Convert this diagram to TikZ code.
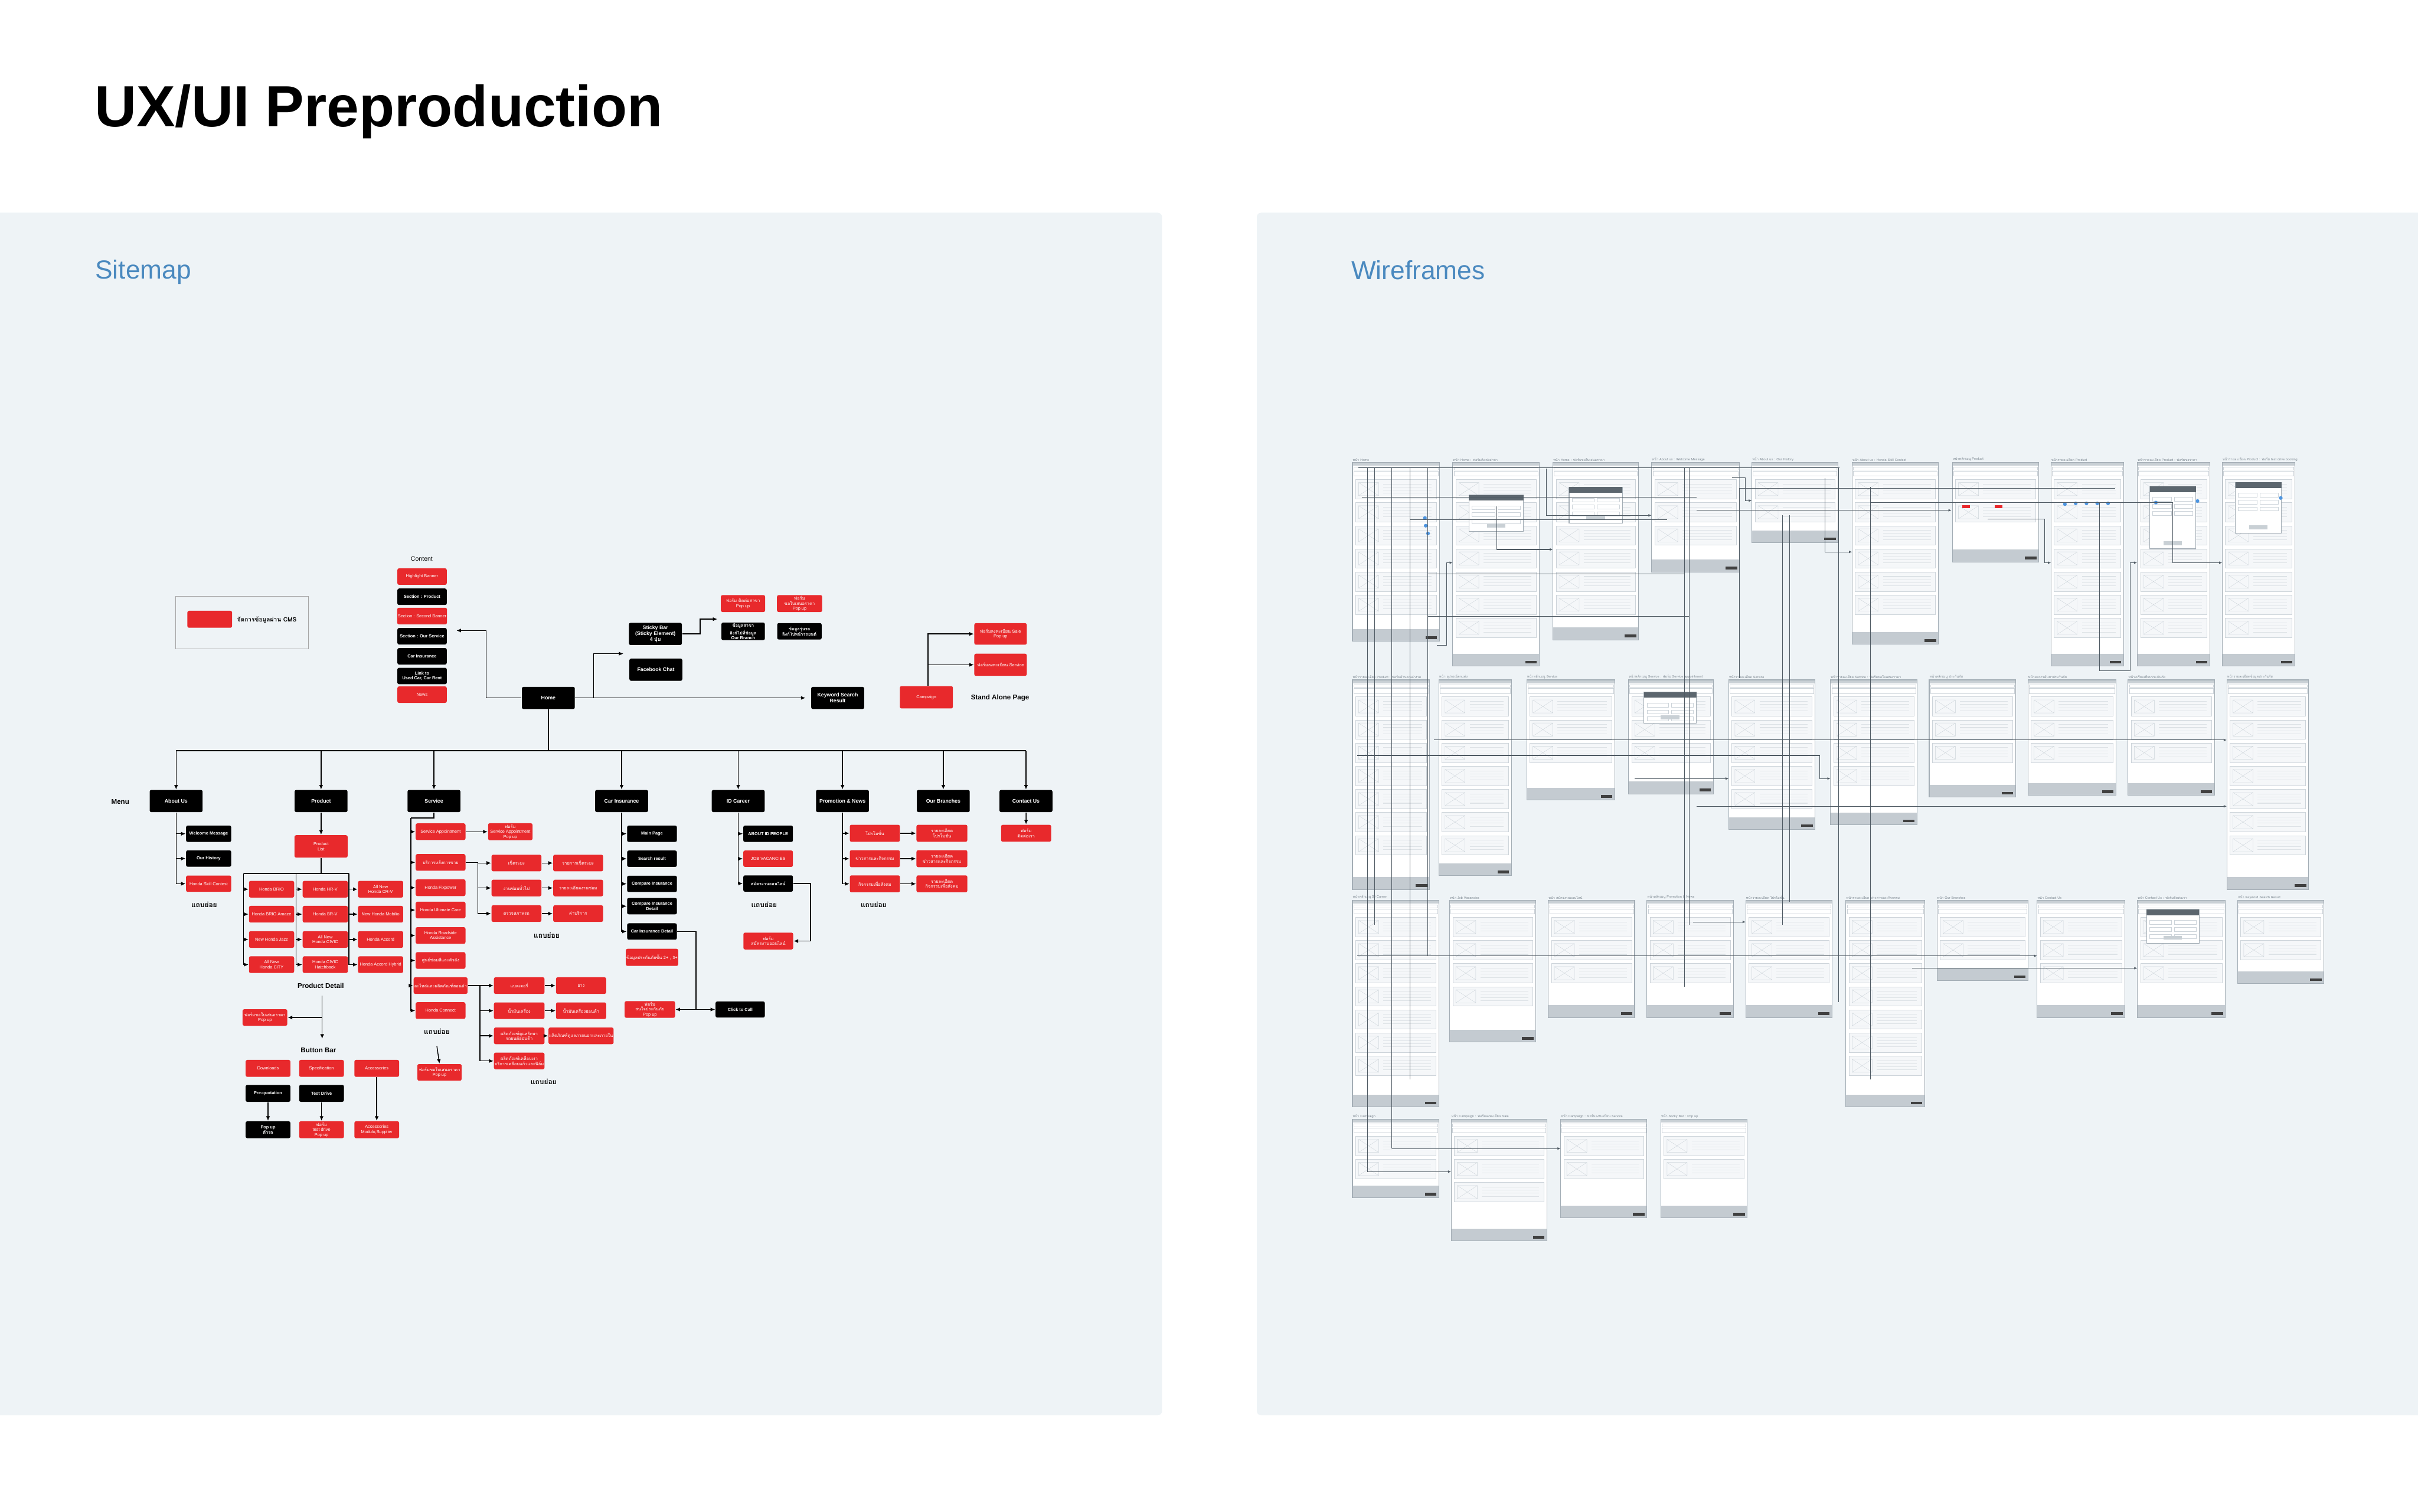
\documentclass[tikz,border=0pt]{standalone}
\usepackage{fontspec}
\setmainfont{Liberation Sans}
\newfontfamily\thai[Script=Thai]{Loma}
\usetikzlibrary{arrows.meta}

\definecolor{panelbg}{HTML}{EEF3F6}
\definecolor{sitered}{HTML}{E8292C}
\definecolor{headblue}{HTML}{4A89BF}
\definecolor{wfborderc}{HTML}{A3ADB5}
\definecolor{wfbarc}{HTML}{C9D0D5}
\definecolor{wffootc}{HTML}{C4CBD1}
\definecolor{wfpanelc}{HTML}{F5F7F9}
\definecolor{wfthinc}{HTML}{CDD4DA}
\definecolor{wftextc}{HTML}{DDE2E6}
\definecolor{wfdarkc}{HTML}{5C666E}
\definecolor{wfconnc}{HTML}{4F5A63}
\definecolor{wfbluec}{HTML}{4D95E0}
\definecolor{wflabelc}{HTML}{7D8891}

\tikzset{
  boxw/.style={minimum width=#1*0.02612cm},
  boxh/.style={minimum height=#1*0.02612cm},
  box/.style={rounded corners=0.8pt, inner sep=0.3pt, align=center, text=white,
    boxw=29.3, boxh=10.8, font=\fontsize{2.1}{2.4}\selectfont},
  blk/.style={box, fill=black, font=\fontsize{2.1}{2.4}\selectfont\bfseries},
  cms/.style={box, fill=sitered},
  menu/.style={blk, boxw=34.3, boxh=14.4, font=\fontsize{2.5}{2.8}\selectfont\bfseries},
  conn/.style={draw=black, line width=0.4pt},
  arr/.style={conn, -{Latex[length=2.2pt,width=1.9pt]}},
  tag/.style={inner sep=0pt, font=\fontsize{3.3}{3.6}\selectfont\bfseries},
  subtag/.style={inner sep=0pt, font=\fontsize{3.4}{3.6}\thai\bfseries},
  wfborder/.style={draw=wfborderc, line width=0.3pt},
  wfthin/.style={draw=wfthinc, line width=0.15pt},
  wfx/.style={draw=wfthinc, line width=0.12pt},
  wftext/.style={draw=wftextc, line width=0.3pt},
  wflabel/.style={anchor=south west, inner sep=0pt, text=wflabelc, font=\fontsize{1.6}{1.8}\selectfont},
  wfconn/.style={draw=wfconnc, line width=0.3pt},
  wfarr/.style={wfconn, -{Latex[length=1.5pt,width=1.3pt]}},
}

% one wireframe screen: x, y (top), width, height, title
\newcommand{\wirescreen}[5]{%
  \fill[white] (#1,#2) rectangle ++(#3,#4);
  \fill[wfbarc] (#1,#2) rectangle ++(#3,2.2);
  \draw[wfthin] (#1+0.8,#2+3) rectangle ++(#3-1.6,1.8);
  \draw[wfthin] (#1+0.8,#2+5.6) rectangle ++(#3-1.6,3.2);
  \pgfmathtruncatemacro{\nblk}{max(1,(#4-20)/15)}%
  \foreach \k in {1,...,\nblk}{%
    \pgfmathsetmacro{\yb}{#2+11+(\k-1)*15}%
    \draw[wfthin, fill=wfpanelc] (#1+2,\yb) rectangle ++(#3-4,12.5);
    \draw[wfx] (#1+4,\yb+2) rectangle ++(13,8.5) (#1+4,\yb+2) -- ++(13,8.5) (#1+17,\yb+2) -- ++(-13,8.5);
    \foreach \t in {0,1,2,3}{\draw[wftext] (#1+20,\yb+3+\t*2) -- ++(#3-25,0);}
  }
  \fill[wffootc] (#1,#2+#4-8) rectangle ++(#3,8);
  \fill[black!75] (#1+#3-9,#2+#4-3.4) rectangle ++(7.5,1.8);
  \draw[wfborder] (#1,#2) rectangle ++(#3,#4);
  \node[wflabel] at (#1,#2-0.6) {#5};
}

% pop up form drawn over a screen: x, y, width, height
\newcommand{\wiremodal}[4]{%
  \draw[wfborder, fill=white] (#1,#2) rectangle ++(#3,#4);
  \fill[wfdarkc] (#1,#2) rectangle ++(#3,3.6);
  \foreach \r in {0,1,2}{\draw[wfthin] (#1+2,#2+7+\r*4.5) rectangle ++(#3/2-3,2.6) (#1+#3/2+1,#2+7+\r*4.5) rectangle ++(#3/2-3,2.6);}
  \fill[wfbarc] (#1+#3/2-6,#2+#4-5) rectangle ++(12,2.6);
}

\begin{document}
\begin{tikzpicture}[x=0.02612cm, y=-0.02612cm]
  \useasboundingbox (0,0) rectangle (1568,980.4);
  \fill[white] (0,0) rectangle (1568,980.4);
  \fill[panelbg, rounded corners=2pt] (-6,138) rectangle (753.5,918);
  \fill[panelbg, rounded corners=2pt] (815,138) rectangle (1575,918);

  \node[anchor=base west, inner sep=0pt, font=\fontsize{28}{30}\selectfont\bfseries] (title) at (61,82.3) {UX/UI Preproduction};
  \node[anchor=base west, inner sep=0pt, text=headblue, font=\fontsize{12.6}{14}\selectfont] (sitemaplbl) at (61.5,180.8) {Sitemap};
  \node[anchor=base west, inner sep=0pt, text=headblue, font=\fontsize{12.6}{14}\selectfont] (wirelbl) at (876,181.2) {Wireframes};

  % ---------------- sitemap ----------------
  % legend
  \draw[draw=black!35, line width=0.3pt] (114,387) rectangle (200,421);
  \node[cms, boxw=29, boxh=11] (legendkey) at (136,401.7) {};
  \node[anchor=west, inner sep=0pt, font=\fontsize{2.9}{3.2}\selectfont\bfseries] (legendtxt) at (153.5,402) {\thai{จัดการข้อมูลผ่าน} CMS};

  % home page content
  \node[tag, font=\fontsize{3}{3.3}\selectfont] (contentlbl) at (273.5,362.5) {Content};
  \node[cms, boxw=32, boxh=10.7] (hlbanner) at (273.7,374) {Highlight Banner};
  \node[blk, boxw=32, boxh=10.7] (secproduct) at (273.7,387.1) {Section : Product};
  \node[cms, boxw=32, boxh=10.7] (secbanner) at (273.7,399.6) {Section : Second Banner};
  \node[blk, boxw=32, boxh=10.7] (secservice) at (273.7,412.7) {Section : Our Service};
  \node[blk, boxw=32, boxh=10.7] (secinsure) at (273.7,425.7) {Car Insurance};
  \node[blk, boxw=32, boxh=10.7] (seclink) at (273.7,438.5) {Link to\\Used Car, Car Rent};
  \node[cms, boxw=32, boxh=10.7] (secnews) at (273.7,450.6) {News};

  \node[menu] (home) at (355.6,452.7) {Home};
  \node[menu] (keyword) at (543.2,452.7) {Keyword Search\\Result};
  \node[menu] (sticky) at (425,411.2) {Sticky Bar\\(Sticky Element)\\4 \thai{ปุ่ม}};
  \node[menu] (fbchat) at (425.3,434.4) {Facebook Chat};
  \node[cms, boxw=28.7, boxh=11] (branchpop) at (481.8,391.5) {\thai{ฟอร์ม ติดต่อสาขา}\\Pop up};
  \node[cms, boxw=29.3, boxh=11] (quotepopA) at (518.5,391.5) {\thai{ฟอร์ม}\\\thai{ขอใบเสนอราคา}\\Pop up};
  \node[blk, boxw=28.2, boxh=10.7] (branchlink) at (481.9,409.5) {\thai{ข้อมูลสาขา}\\\thai{ลิงก์ไปที่ข้อมูล}\\Our Branch};
  \node[blk, boxw=28.8, boxh=10.7] (carlink) at (518.4,409.5) {\thai{ข้อมูลรุ่นรถ}\\\thai{ลิงก์ไปหน้ารถยนต์}};

  \node[cms, boxw=34.4, boxh=14.5] (campaign) at (600.7,452.3) {Campaign};
  \node[cms, boxw=34, boxh=14] (salepop) at (648.8,411.2) {\thai{ฟอร์มลงทะเบียน} Sale\\Pop up};
  \node[cms, boxw=34, boxh=14.4] (servicepop) at (648.8,431.2) {\thai{ฟอร์มลงทะเบียน} Service};
  \node[tag] (standalone) at (648.5,452.8) {Stand Alone Page};

  \coordinate (stickyin) at (404.3,424);
  \coordinate (popin) at (465.2,401.6);
  \draw[arr, shorten >=0.157cm] (home.west) -- ++(-23,0) |- ([yshift=0.097cm]secservice.east);
  \draw[arr, shorten >=0.09cm] (home) -- (keyword);
  \draw[arr] ([xshift=0.308cm]home.east) |- (stickyin);
  \draw[arr] (sticky.east) -- ++(11.6,0) |- (popin);
  \draw[arr] ([xshift=0.026cm]campaign.north) |- (salepop.west);
  \draw[arr] ([xshift=0.026cm]campaign.north |- servicepop.west) -- (servicepop.west);

  % main menu
  \node[tag] (menulbl) at (78,520) {Menu};
  \node[menu] (aboutus) at (114.2,519.6) {About Us};
  \node[menu] (product) at (208.2,519.6) {Product};
  \node[menu] (service) at (281.4,519.6) {Service};
  \node[menu] (carins) at (403.1,519.6) {Car Insurance};
  \node[menu] (career) at (478.7,519.6) {ID Career};
  \node[menu] (promo) at (546.3,519.6) {Promotion \& News};
  \node[menu] (branches) at (611.7,519.6) {Our Branches};
  \node[menu] (contact) at (665.3,519.6) {Contact Us};

  \coordinate (busL) at (114,486.9);
  \coordinate (busR) at (665.3,486.9);
  \draw[conn] (home.south) -- (home.south |- busL);
  \draw[conn] (busL) -- (busR);
  \foreach \m in {aboutus,product,service,carins,career,promo,branches,contact}
    \draw[arr] (\m.north |- busL) -- (\m.north);

  % about us
  \node[blk, boxw=29.3, boxh=10.6] (welcome) at (135.3,540.8) {Welcome Message};
  \node[blk, boxw=29.3, boxh=10.6] (history) at (135.3,556.9) {Our History};
  \node[cms, boxw=29.3, boxh=10.6] (skill) at (135.3,573.2) {Honda Skill Contest};
  \node[subtag] (aboutsub) at (132.4,586.8) {แถบย่อย};
  \foreach \c in {welcome,history,skill}
    \draw[arr] (aboutus.south) |- (\c.west);

  % product
  \node[cms, boxw=34.5, boxh=14.5] (productlist) at (208.2,549) {Product\\List};
  \draw[arr] (product) -- (productlist);
  \coordinate (gridA) at (158,566.6);
  \coordinate (gridB) at (191.9,566.6);
  \coordinate (gridC) at (226.3,566.6);
  \draw[conn] (productlist.south) -- (productlist.south |- gridA);
  \draw[conn] (gridA) -- (gridC);
  \node[cms] (brio) at (176.1,576.8) {Honda BRIO};
  \node[cms] (amaze) at (176.1,593) {Honda BRIO Amaze};
  \node[cms] (jazz) at (176.1,609.4) {New Honda Jazz};
  \node[cms] (city) at (176.1,625.7) {All New\\Honda CITY};
  \node[cms] (hrv) at (210.9,576.8) {Honda HR-V};
  \node[cms] (brv) at (210.9,593) {Honda BR-V};
  \node[cms] (civic) at (210.9,609.4) {All New\\Honda CIVIC};
  \node[cms] (hatch) at (210.9,625.7) {Honda CIVIC\\Hatchback};
  \node[cms] (crv) at (246.8,576.8) {All New\\Honda CR-V};
  \node[cms] (mobilio) at (246.8,593) {New Honda Mobilio};
  \node[cms] (accord) at (246.8,609.4) {Honda Accord};
  \node[cms] (hybrid) at (246.8,625.7) {Honda Accord Hybrid};
  \foreach \c in {brio,amaze,jazz,city} \draw[arr] (gridA) |- (\c.west);
  \foreach \c in {hrv,brv,civic,hatch} \draw[arr] (gridB) |- (\c.west);
  \foreach \c in {crv,mobilio,accord,hybrid} \draw[arr] (gridC) |- (\c.west);

  \node[tag] (pdetail) at (208,639.4) {Product Detail};
  \node[cms, boxw=29, boxh=10.7] (quotepop) at (171.8,660) {\thai{ฟอร์มขอใบเสนอราคา}\\Pop up};
  \coordinate (pdtop) at (208.9,645.7);
  \coordinate (pddown) at (208.9,673.8);
  \draw[arr] (pdtop) -- (pddown);
  \draw[arr] (pdtop |- quotepop.east) -- (quotepop.east);
  \node[tag] (buttonbar) at (206.5,681.2) {Button Bar};
  \node[cms, boxw=29, boxh=11] (downloads) at (173.8,693) {Downloads};
  \node[cms, boxw=29, boxh=11] (spec) at (208.5,693) {Specification};
  \node[cms, boxw=29, boxh=11] (access) at (244.3,693) {Accessories};
  \node[blk, boxw=29, boxh=11] (prequote) at (173.8,709.2) {Pre-quotation};
  \node[blk, boxw=29, boxh=11] (testdrive) at (208.5,709.2) {Test Drive};
  \node[blk, boxw=29, boxh=11] (carpop) at (173.8,732.8) {Pop up\\\thai{ตัวรถ}};
  \node[cms, boxw=29, boxh=11] (drivepop) at (208.5,732.8) {\thai{ฟอร์ม}\\test drive\\Pop up};
  \node[cms, boxw=29, boxh=11] (modulo) at (244.3,732.8) {Accessories\\Modulo,Supplier};
  \draw[arr] (prequote) -- (carpop);
  \draw[arr] (testdrive) -- (drivepop);
  \draw[arr] (access) -- (modulo);

  % service
  \coordinate (svtrunk) at (266.5,530.6);
  \draw[conn] (service.south) |- (svtrunk);
  \node[cms, boxw=32.3] (svappoint) at (285.7,539.5) {Service Appointment};
  \node[cms, boxw=32.3] (svafter) at (285.7,559.4) {\thai{บริการหลังการขาย}};
  \node[cms, boxw=32.3] (svfix) at (285.7,575.8) {Honda Fixpower};
  \node[cms, boxw=32.3] (svcare) at (285.7,590.3) {Honda Ultimate Care};
  \node[cms, boxw=32.3] (svroad) at (285.7,606.8) {Honda Roadside\\Assistance};
  \node[cms, boxw=32.3] (svbody) at (285.7,623) {\thai{ศูนย์ซ่อมสีและตัวถัง}};
  \node[cms, boxw=32.3] (svparts) at (285.7,639.3) {\thai{อะไหล่และผลิตภัณฑ์ฮอนด้า}};
  \node[cms, boxw=32.3] (svconnect) at (285.7,655.5) {Honda Connect};
  \foreach \c in {svappoint,svafter,svfix,svcare,svroad,svbody,svparts,svconnect}
    \draw[arr] (svtrunk) |- (\c.west);
  \node[cms, boxw=28.8, boxh=11] (appointpop) at (330.9,539.5) {\thai{ฟอร์ม}\\Service Appointment\\Pop up};
  \draw[arr] (svappoint) -- (appointpop);

  \node[cms, boxw=32.3] (checkA) at (334.9,559.8) {\thai{เช็คระยะ}};
  \node[cms, boxw=32.3] (repairA) at (334.9,576) {\thai{งานซ่อมทั่วไป}};
  \node[cms, boxw=32.3] (inspectA) at (334.9,592.6) {\thai{ตรวจสภาพรถ}};
  \node[cms, boxw=32.3] (checkB) at (374.9,559.8) {\thai{รายการเช็คระยะ}};
  \node[cms, boxw=32.3] (repairB) at (374.9,576) {\thai{รายละเอียดงานซ่อม}};
  \node[cms, boxw=32.3] (inspectB) at (374.9,592.6) {\thai{ค่าบริการ}};
  \foreach \c in {checkA,repairA,inspectA}
    \draw[arr] (svafter.east) -- ++(7.8,0) |- (\c.west);
  \draw[arr] (checkA) -- (checkB);
  \draw[arr] (repairA) -- (repairB);
  \draw[arr] (inspectA) -- (inspectB);
  \node[subtag] (aftersub) at (354.5,606.8) {แถบย่อย};

  \node[cms, boxw=32.8] (battC) at (336.7,639.3) {\thai{แบตเตอรี่}};
  \node[cms, boxw=32.8] (oilC) at (336.7,655.6) {\thai{น้ำมันเครื่อง}};
  \node[cms, boxw=32.8] (careC) at (336.7,671.9) {\thai{ผลิตภัณฑ์ดูแลรักษา}\\\thai{รถยนต์ฮอนด้า}};
  \node[cms, boxw=32.8] (coatC) at (336.7,688.2) {\thai{ผลิตภัณฑ์เคลือบเงา}\\\thai{บริการเคลือบแก้วและฟิล์ม}};
  \node[cms, boxw=32.5] (tyreD) at (376.8,639.3) {\thai{ยาง}};
  \node[cms, boxw=32.5] (oilD) at (376.8,655.6) {\thai{น้ำมันเครื่องฮอนด้า}};
  \node[cms, boxw=32.5] (careD) at (376.8,671.9) {\thai{ผลิตภัณฑ์ดูแลภายนอกและภายใน}};
  \foreach \c in {battC,oilC,careC,coatC}
    \draw[arr] (svparts.east) -- ++(7.8,0) |- (\c.west);
  \draw[arr] (battC) -- (tyreD);
  \draw[arr] (oilC) -- (oilD);
  \draw[arr] (careC) -- (careD);
  \node[subtag] (partsub) at (352.5,701.8) {แถบย่อย};

  \node[subtag] (servicesub) at (283.3,669) {แถบย่อย};
  \node[cms, boxw=28.7] (svquote) at (285,695.6) {\thai{ฟอร์มขอใบเสนอราคา}\\Pop up};
  \draw[arr] ([yshift=-0.2cm]servicesub.south) -- (svquote.north);

  % car insurance
  \node[blk, boxw=32.3, boxh=10.6] (insmain) at (422.8,540.8) {Main Page};
  \node[blk, boxw=32.3, boxh=10.6] (inssearch) at (422.8,557) {Search result};
  \node[blk, boxw=32.3, boxh=10.6] (inscompare) at (422.8,573.3) {Compare  Insurance};
  \node[blk, boxw=32.3, boxh=10.6] (inscmpdetail) at (422.8,587.8) {Compare Insurance\\Detail};
  \node[blk, boxw=32.3, boxh=10.6] (insdetail) at (422.8,604.2) {Car Insurance Detail};
  \node[cms, boxw=33.2, boxh=11.1] (insclass) at (422.8,621) {\thai{ข้อมูลประกันภัยชั้น} 2+ , 3+};
  \foreach \c in {insmain,inssearch,inscompare,inscmpdetail,insdetail}
    \draw[arr] (carins.south) |- (\c.west);
  \node[cms, boxw=32.7] (inspop) at (421.4,654.8) {\thai{ฟอร์ม}\\\thai{สนใจประกันภัย}\\Pop up};
  \node[blk, boxw=32, boxh=10.4] (clickcall) at (480,654.8) {Click to Call};
  \coordinate (callsplit) at (451.4,654.8);
  \draw[conn] (insdetail.east) -| (callsplit);
  \draw[arr] (callsplit) -- (inspop.east);
  \draw[arr] (callsplit) -- (clickcall.west);

  % career
  \node[blk, boxw=32.2, boxh=10.6] (idpeople) at (498.1,540.8) {ABOUT ID PEOPLE};
  \node[cms, boxw=32.2, boxh=10.6] (jobs) at (498.1,557) {JOB VACANCIES};
  \node[blk, boxw=32.2, boxh=10.6] (applyonline) at (498.1,573.1) {\thai{สมัครงานออนไลน์}};
  \foreach \c in {idpeople,jobs,applyonline}
    \draw[arr] (career.south) |- (\c.west);
  \node[subtag] (careersub) at (495.5,586.8) {แถบย่อย};
  \node[cms, boxw=32.3, boxh=10.9] (applypop) at (498.2,610.4) {\thai{ฟอร์ม}\\\thai{สมัครงานออนไลน์}};
  \draw[arr] (applyonline.east) -- ++(11.1,0) |- (applypop.east);

  % promotion & news
  \node[cms, boxw=32.5, boxh=11] (promoA) at (567.3,540.5) {\thai{โปรโมชั่น}};
  \node[cms, boxw=32.5, boxh=11] (newsA) at (567.3,557) {\thai{ข่าวสารและกิจกรรม}};
  \node[cms, boxw=32.5, boxh=11] (csrA) at (567.3,573.3) {\thai{กิจกรรมเพื่อสังคม}};
  \node[cms, boxw=33, boxh=11] (promoB) at (610.8,540.5) {\thai{รายละเอียด}\\\thai{โปรโมชั่น}};
  \node[cms, boxw=33, boxh=11] (newsB) at (610.8,557) {\thai{รายละเอียด}\\\thai{ข่าวสารและกิจกรรม}};
  \node[cms, boxw=33, boxh=11] (csrB) at (610.8,573.3) {\thai{รายละเอียด}\\\thai{กิจกรรมเพื่อสังคม}};
  \foreach \c in {promoA,newsA,csrA}
    \draw[arr] (promo.south) |- (\c.west);
  \draw[arr] (promoA) -- (promoB);
  \draw[arr] (newsA) -- (newsB);
  \draw[arr] (csrA) -- (csrB);
  \node[subtag] (promosub) at (566.5,586.8) {แถบย่อย};

  % contact
  \node[cms, boxw=32.5, boxh=10.9] (contactform) at (665.4,540.5) {\thai{ฟอร์ม}\\\thai{ติดต่อเรา}};
  \draw[arr] (contact) -- (contactform);

  % ---------------- wireframes ----------------
  \foreach \x/\y/\w/\h/\lbl in {
      877/300/56.4/116/{\thai{หน้า} Home},
      942/300/56/132/{\thai{หน้า} Home : \thai{ฟอร์มติดต่อสาขา}},
      1007/300/55.5/115/{\thai{หน้า} Home : \thai{ฟอร์มขอใบเสนอราคา}},
      1071/300/57/71/{\thai{หน้า} About us : Welcome Message},
      1136/300/56/52/{\thai{หน้า} About us : Our History},
      1201/300/56/118/{\thai{หน้า} About us : Honda Skill Contest},
      1266/300/56/64.5/{\thai{หน้าหลักเมนู} Product},
      1330/300/47/132/{\thai{หน้ารายละเอียด} Product},
      1386/300/47/132/{\thai{หน้ารายละเอียด} Product : \thai{ฟอร์มขอราคา}},
      1441/300/47/132/{\thai{หน้ารายละเอียด} Product : \thai{ฟอร์ม} test drive booking},
      877/441/50/136/{\thai{หน้ารายละเอียด} Product : \thai{ฟอร์มคำนวณค่างวด}},
      933/441/47/127/{\thai{หน้า อุปกรณ์ตกแต่ง}},
      990/441/57/78/{\thai{หน้าหลักเมนู} Service},
      1056/441/55/74/{\thai{หน้าหลักเมนู} Service : \thai{ฟอร์ม} Service appointment},
      1121/441/56/97/{\thai{หน้ารายละเอียด} Service},
      1187/441/56/94/{\thai{หน้ารายละเอียด} Service : \thai{ฟอร์มขอใบเสนอราคา}},
      1251/441/56/76/{\thai{หน้าหลักเมนู ประกันภัย}},
      1315/441/57/75/{\thai{หน้าผลการค้นหาประกันภัย}},
      1380/441/56/75/{\thai{หน้าเปรียบเทียบประกันภัย}},
      1444/441/53/136/{\thai{หน้ารายละเอียดข้อมูลประกันภัย}},
      877/584/56/134/{\thai{หน้าหลักเมนู} ID Career},
      940/584/56/92/{\thai{หน้า} Job Vacancies},
      1004/584/56/76/{\thai{หน้า สมัครงานออนไลน์}},
      1068/584/56/76/{\thai{หน้าหลักเมนู} Promotion \& News},
      1132/584/56/76/{\thai{หน้ารายละเอียด โปรโมชั่น}},
      1197/584/51/134/{\thai{หน้ารายละเอียด ข่าวสารและกิจกรรม}},
      1256/584/59/52/{\thai{หน้า} Our Branches},
      1321/584/57/76/{\thai{หน้า} Contact Us},
      1386/584/57/76/{\thai{หน้า} Contact Us : \thai{ฟอร์มติดต่อเรา}},
      1451/584/56/54/{\thai{หน้า} Keyword Search Result},
      877/726/56/51/{\thai{หน้า} Campaign},
      941/726/62/79/{\thai{หน้า} Campaign : \thai{ฟอร์มลงทะเบียน} Sale},
      1012/726/56/64/{\thai{หน้า} Campaign : \thai{ฟอร์มลงทะเบียน} Service},
      1077/726/56/64/{\thai{หน้า} Sticky Bar : Pop up}}
    \wirescreen{\x}{\y}{\w}{\h}{\lbl};

  \wiremodal{952.6}{321}{35.4}{23.6}
  \wiremodal{1017.5}{316}{34.5}{23.5}
  \wiremodal{1394}{315.5}{30}{40.5}
  \wiremodal{1449.5}{312.8}{30}{33}
  \wiremodal{1066}{449}{34}{20}
  \wiremodal{1392}{590}{34}{22}

  \foreach \bx/\by in {924/336, 924.5/341, 926/346, 1339/327, 1346/326.5, 1353/326.5, 1360/326.5, 1367/326.5, 1398/326, 1425/325, 1479/323}
    \fill[wfbluec] (\bx,\by) circle (1.2);
  \fill[sitered] (1272.5,327.5) rectangle ++(5,2.2);
  \fill[sitered] (1293.5,327.5) rectangle ++(5,2.2);

  % connectors between screens
  \draw[wfconn] (881,303.5) -- (1193,303.5);
  \draw[wfconn] (883,322.6) -- (1100,322.6);
  \draw[wfarr] (1100,331) -- (1265.5,331);
  \draw[wfconn] (1127.8,316.6) -- (1371.6,316.6);
  \draw[wfarr] (1213,325.8) -- (1409,325.8) -- (1409,365) -- (1441,365);
  \draw[wfarr] (1289,336.6) -- (1326,336.6) -- (1326,365) -- (1330,365);
  \draw[wfarr] (1361.4,326) -- (1361.4,435) -- (1381.3,435) -- (1381.3,365) -- (1385.8,365);
  \draw[wfarr] (931.7,418.5) -- (937.9,418.5) -- (937.9,365) -- (942,365);
  \draw[wfarr] (970.5,328.5) -- (970.5,356.4) -- (1007,356.4);
  \draw[wfarr] (1002.7,304) -- (1002.7,334.3) -- (1071,334.3);
  \draw[wfarr] (1123,310) -- (1131.7,310) -- (1131.7,324.7) -- (1136,324.7);
  \draw[wfarr] (1183.4,310) -- (1183.4,358) -- (1201,358);
  \draw[wfconn] (925.7,372.3) -- (1092.2,372.3);
  \draw[wfconn] (925.7,399.7) -- (1095.5,399.7);
  \draw[wfconn] (914.2,337) -- (1081,337);
  \foreach \vx/\vy in {886.7/760, 891.5/600, 902.5/745, 914.2/700, 925.7/620, 1092.2/640, 1095.5/600, 1192.2/650}
    \draw[wfconn] (\vx,303.5) -- (\vx,\vy);
  \draw[wfconn] (1213,316) -- (1213,700);
  \draw[wfconn] (1127.8,316.6) -- (1127.8,440);
  \draw[wfconn] (1155.9,334) -- (1155.9,600);
  \draw[wfconn] (1160.5,334) -- (1160.5,585);
  \draw[wfarr] (930,480) -- (1444,480);
  \draw[wfarr] (880,490) -- (1180,490) -- (1180,505) -- (1187,505);
  \draw[wfarr] (1100,523) -- (1444,523);
  \draw[wfarr] (1060,505) -- (1121,505);
  \draw[wfarr] (1098,598) -- (1132,598);
  \draw[wfarr] (880,620) -- (1321,620);
  \draw[wfarr] (1240,628) -- (1386,628);
  \draw[wfarr] (886.7,760) -- (941,760);
  \draw[wfarr] (902.5,745) -- (1012,745);
\end{tikzpicture}
\end{document}
